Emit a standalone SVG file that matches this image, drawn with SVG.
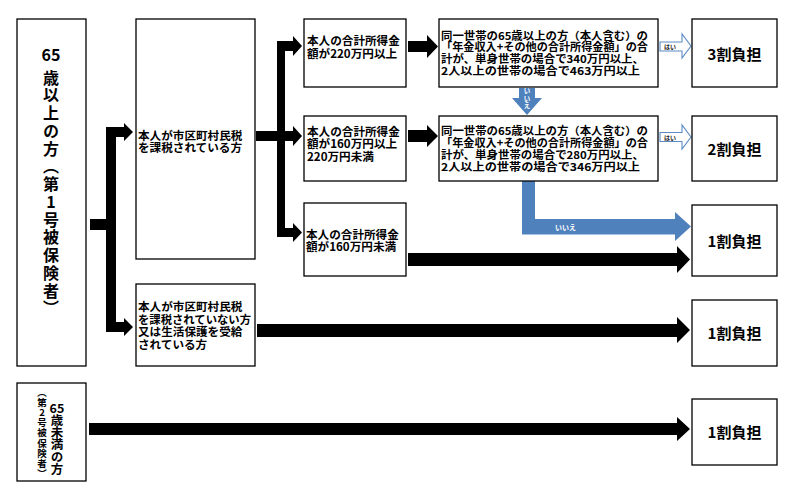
<svg xmlns="http://www.w3.org/2000/svg" width="789" height="497" viewBox="0 0 789 497">
<style>
.box{fill:#fff;stroke:#000;stroke-width:1.3}
.t{font-family:"Noto Sans CJK JP","Noto Sans CJK SC",sans-serif;font-weight:bold;fill:#000}
.s12{font-size:11.6px}
.s115{font-size:10.8px}
.vert{writing-mode:vertical-rl;text-orientation:mixed}
.up{text-orientation:upright}
.big{font-size:16px}
.mid{font-size:12.5px}
.sm{font-size:9.5px}
.res{font-size:15px;text-anchor:middle}
.blk{fill:#000}
.blue{fill:#4F81BD}
.hai{fill:#fff;stroke:#5B8BC6;stroke-width:1.1}
.wt{font-family:"Noto Sans CJK JP",sans-serif;font-weight:bold;fill:#fff}
.ht{font-family:"Noto Sans CJK JP",sans-serif;font-weight:bold;fill:#222;font-size:6px}
</style>
<rect width="789" height="497" fill="#fff"/>

<g id="connectors">
  <rect class="blk" x="90" y="219" width="17" height="11"/>
  <rect class="blk" x="106" y="127" width="10" height="205"/>
  <polygon class="blk" points="116,127 124,127 124,123 133,132 124,141 124,137 116,137"/>
  <polygon class="blk" points="116,322 124,322 124,318 133,327 124,336 124,332 116,332"/>

  <rect class="blk" x="256" y="131" width="22" height="10"/>
  <rect class="blk" x="277" y="41" width="8" height="196"/>
  <polygon class="blk" points="285,41 293,41 293,36 302,46 293,56 293,51 285,51"/>
  <polygon class="blk" points="285,131 293,131 293,126 302,136 293,146 293,141 285,141"/>
  <polygon class="blk" points="285,228 293,228 293,223 302,232.5 293,242 293,237 285,237"/>

  <polygon class="blk" points="408,41 427,41 427,35 438,46.5 427,58 427,52 408,52"/>
  <polygon class="blk" points="408,130 427,130 427,125 438,136 427,147 427,142 408,142"/>
  <polygon class="blk" points="408,253 677,253 677,246 690,259.5 677,273 677,266 408,266"/>
  <polygon class="blk" points="257,324 677,324 677,317 690,330 677,343 677,337 257,337"/>
  <polygon class="blk" points="89,423 677,423 677,417 690,429 677,441 677,435 89,435"/>

  <polygon class="hai" points="660,42 682,42 682,34 691,46 682,58 682,51 660,51"/>
  <text class="ht" x="664" y="49">はい</text>
  <polygon class="hai" points="660,132.5 682,132.5 682,125 691,137 682,149 682,141.5 660,141.5"/>
  <text class="ht" x="664" y="140">はい</text>

  <polygon class="blue" points="519,88 535,88 535,98 542,98 527,115 512,98 519,98"/>
  <text class="wt vert" font-size="6.5" x="527" y="87.5" style="letter-spacing:1px">いいえ</text>

  <polygon class="blue" points="522,181 535,181 535,219 675,219 675,212 691,226.5 675,241 675,234.5 522,234.5"/>
  <text class="wt" font-size="7" x="555" y="230">いいえ</text>
</g>

<g id="n-over65">
  <rect class="box" x="17" y="19" width="69" height="347"/>
  <text class="t big" x="51" y="61" text-anchor="middle">65</text>
  <text class="t big vert" x="51" y="69.5" style="letter-spacing:1.75px">歳以上の方（第<tspan class="up">1</tspan>号被保険者）</text>
</g>

<g id="n-taxed">
  <rect class="box" x="136" y="19" width="119" height="240"/>
  <text class="t s12"><tspan x="138" y="139.5">本人が市区町村民税</tspan><tspan x="138" y="151.5">を課税されている方</tspan></text>
</g>

<g id="n-untaxed">
  <rect class="box" x="136" y="284" width="119" height="82"/>
  <text class="t s12"><tspan x="138" y="311">本人が市区町村民税</tspan><tspan x="138" y="323.5" textLength="113" lengthAdjust="spacingAndGlyphs">を課税されていない方</tspan><tspan x="138" y="336">又は生活保護を受給</tspan><tspan x="138" y="348.5">されている方</tspan></text>
</g>

<g id="n-under65">
  <rect class="box" x="17" y="383" width="69" height="98"/>
  <text class="t mid" x="57" y="412.5" text-anchor="middle">65</text>
  <text class="t mid vert" x="57" y="414" style="letter-spacing:-0.3px">歳未満の方</text>
  <text class="t sm vert" x="42" y="387.7" style="letter-spacing:0.6px">（第<tspan class="up">2</tspan>号被保険者）</text>
</g>

<g id="n-inc220">
  <rect class="box" x="304" y="19" width="102" height="68"/>
  <text class="t s12"><tspan x="307" y="44.5">本人の合計所得金</tspan><tspan x="307" y="57.5">額が220万円以上</tspan></text>
</g>

<g id="n-inc160">
  <rect class="box" x="304" y="116" width="102" height="65"/>
  <text class="t s12"><tspan x="307" y="135.5">本人の合計所得金</tspan><tspan x="307" y="148">額が160万円以上</tspan><tspan x="307" y="160.5">220万円未満</tspan></text>
</g>

<g id="n-incless">
  <rect class="box" x="304" y="203" width="102" height="73"/>
  <text class="t s12"><tspan x="306" y="238.5">本人の合計所得金</tspan><tspan x="306" y="251">額が160万円未満</tspan></text>
</g>

<g id="n-hh340">
  <rect class="box" x="439" y="19" width="219" height="68"/>
  <text class="t s115"><tspan x="441" y="39.5" textLength="207" lengthAdjust="spacingAndGlyphs">同一世帯の65歳以上の方（本人含む）の</tspan><tspan x="441" y="51.3" textLength="207" lengthAdjust="spacingAndGlyphs">「年金収入+その他の合計所得金額」の合</tspan><tspan x="441" y="63" textLength="203" lengthAdjust="spacingAndGlyphs">計が、単身世帯の場合で340万円以上、</tspan><tspan x="441" y="74.7" textLength="199" lengthAdjust="spacingAndGlyphs">2人以上の世帯の場合で463万円以上</tspan></text>
</g>

<g id="n-hh280">
  <rect class="box" x="439" y="116" width="219" height="65"/>
  <text class="t s115"><tspan x="441" y="135.1" textLength="207" lengthAdjust="spacingAndGlyphs">同一世帯の65歳以上の方（本人含む）の</tspan><tspan x="441" y="146.9" textLength="207" lengthAdjust="spacingAndGlyphs">「年金収入+その他の合計所得金額」の合</tspan><tspan x="441" y="158.7" textLength="203" lengthAdjust="spacingAndGlyphs">計が、単身世帯の場合で280万円以上、</tspan><tspan x="441" y="170.6" textLength="199" lengthAdjust="spacingAndGlyphs">2人以上の世帯の場合で346万円以上</tspan></text>
</g>

<g id="r-3">
  <rect class="box" x="692" y="19" width="85" height="68"/>
  <text class="t res" x="734.5" y="59.5">3割負担</text>
</g>
<g id="r-2">
  <rect class="box" x="692" y="116" width="85" height="65"/>
  <text class="t res" x="734.5" y="154.5">2割負担</text>
</g>
<g id="r-1a">
  <rect class="box" x="692" y="205" width="85" height="71"/>
  <text class="t res" x="734.5" y="246.5">1割負担</text>
</g>
<g id="r-1b">
  <rect class="box" x="692" y="300" width="85" height="66"/>
  <text class="t res" x="734.5" y="338.5">1割負担</text>
</g>
<g id="r-1c">
  <rect class="box" x="692" y="399" width="85" height="66"/>
  <text class="t res" x="734.5" y="437.5">1割負担</text>
</g>
</svg>
